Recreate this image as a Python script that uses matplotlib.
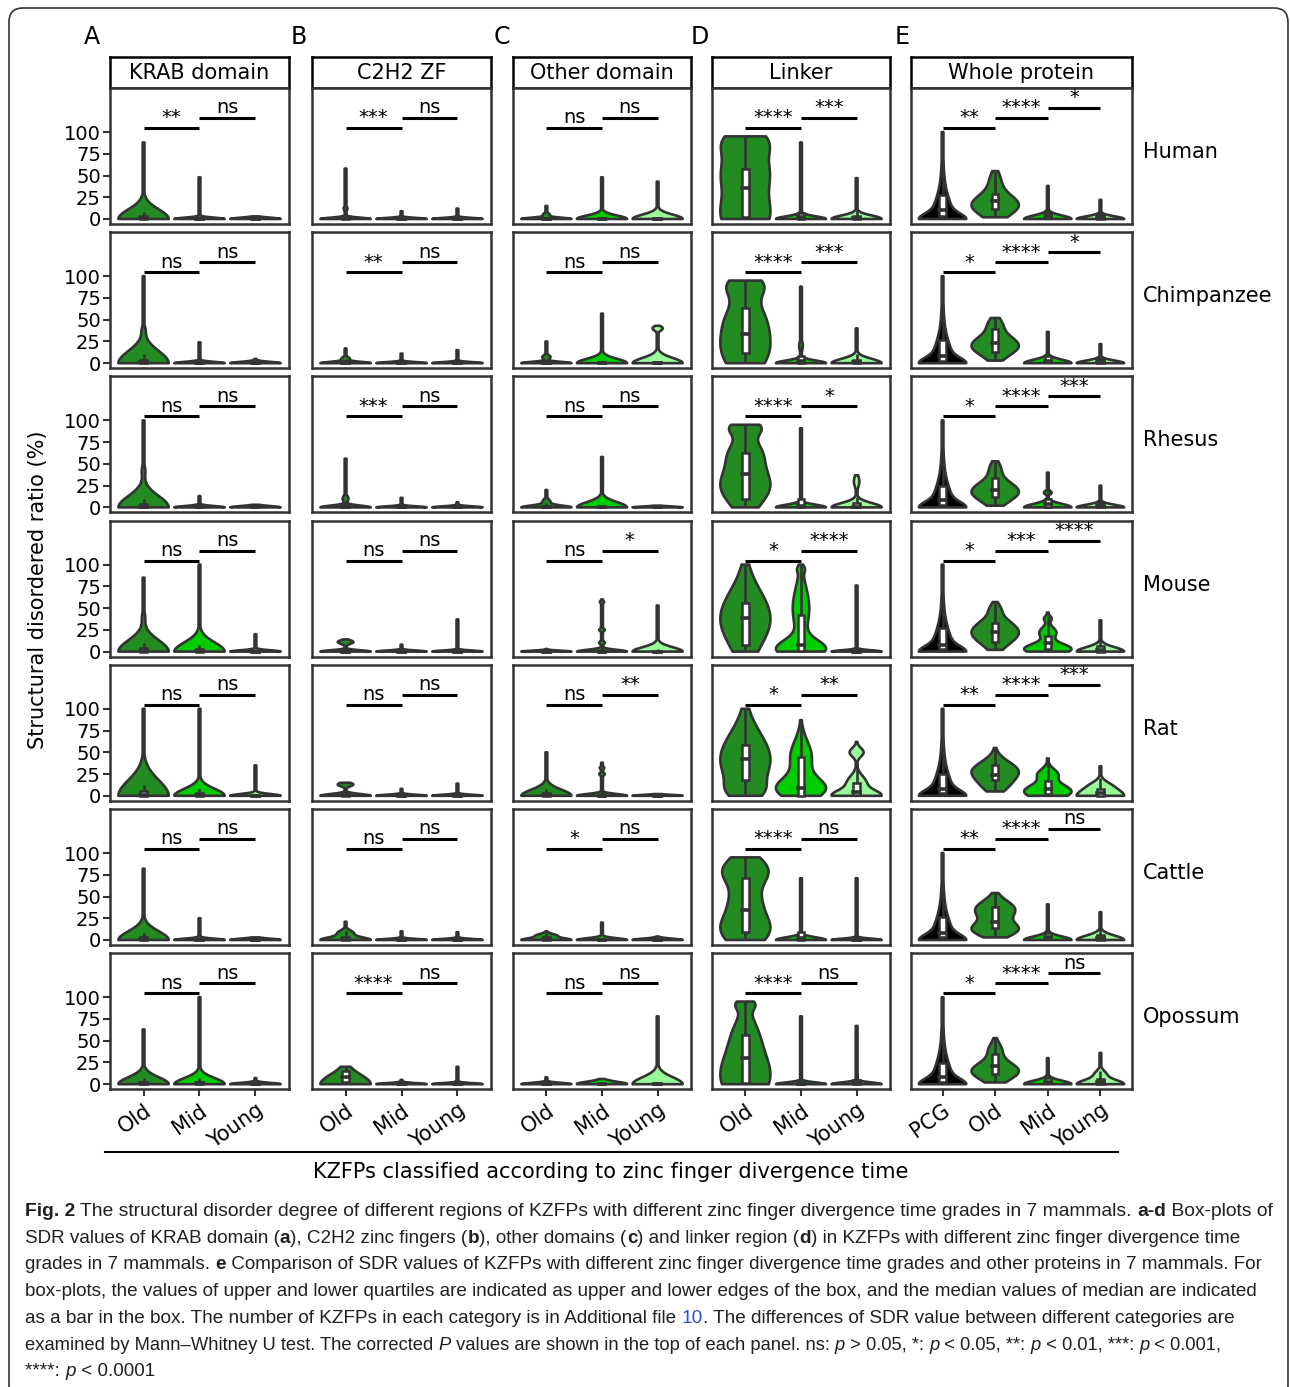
import numpy as np
import matplotlib
matplotlib.use("Agg")
import matplotlib.pyplot as plt
from matplotlib import font_manager
from matplotlib.patches import Rectangle, FancyBboxPatch
from matplotlib.lines import Line2D
from matplotlib.transforms import IdentityTransform

W, H = 1290, 1387

REGIONS = ["KRAB domain", "C2H2 ZF", "Other domain", "Linker", "Whole protein"]
LETTERS = ["A", "B", "C", "D", "E"]
SPECIES = ["Human", "Chimpanzee", "Rhesus", "Mouse", "Rat", "Cattle", "Opossum"]
GRADES = ["Old", "Mid", "Young"]
WHOLE_GROUPS = ["PCG", "Old", "Mid", "Young"]

# violin maxima (SDR %), one row per species
KRAB_TOP = [[88, 48, 3], [100, 24, 5], [100, 13, 3], [85, 100, 20],
            [100, 100, 35], [82, 25, 3], [63, 100, 7]]
C2H2_TOP = [[58, 9, 12], [17, 11, 15], [56, 11, 6], [14, 8, 37],
            [15, 8, 14], [21, 10, 9], [20, 5, 20]]
OTHER_TOP = [[15, 48, 43], [25, 57, 43], [20, 58, 2], [3, 60, 53],
             [50, 38, 2], [10, 20, 4], [8, 6, 78]]
LINKER_TOP = [[95, 88, 47], [95, 88, 40], [95, 91, 37], [100, 100, 76],
              [100, 87, 62], [95, 71, 71], [95, 78, 67]]
WHOLE_TOP = [[100, 55, 38, 22], [100, 52, 36, 22], [100, 53, 40, 25], [100, 57, 45, 36],
             [100, 55, 43, 34], [100, 54, 41, 32], [100, 53, 30, 36]]
WHOLE_LOW = [[0, 2, 0, 0], [0, 3, 0, 0], [0, 2, 0, 0], [0, 2, 0, 0],
             [0, 5, 0, 0], [0, 3, 0, 0], [0, 2, 0, 0]]

# box stats (q1, median, q3)
KRAB_BOX = [[(0, 1, 3), (0, 0, 1), (0, 0, 1)],
            [(0, 1, 4), (0, 0, 1), (0, 0, 1)],
            [(0, 1, 4), (0, 0, 1), (0, 0, 1)],
            [(0, 1, 4), (0, 1, 3), (0, 0, 1)],
            [(0, 1, 5), (0, 1, 3), (0, 0, 1)],
            [(0, 1, 3), (0, 0, 1), (0, 0, 1)],
            [(0, 1, 3), (0, 1, 3), (0, 0, 1)]]
C2H2_BOX = [[(0, 1, 3), (0, 0, 1), (0, 0, 1)],
            [(0, 0, 2), (0, 0, 1), (0, 0, 1)],
            [(0, 1, 3), (0, 0, 1), (0, 0, 1)],
            [(0, 0, 2), (0, 0, 1), (0, 0, 1)],
            [(0, 1, 3), (0, 0, 1), (0, 0, 1)],
            [(0, 1, 4), (0, 0, 1), (0, 0, 1)],
            [(3, 8, 15), (0, 0, 1), (0, 0, 1)]]
OTHER_BOX = [[(0, 0, 1), (0, 0, 1), (0, 0, 1)],
             [(0, 0, 2), (0, 0, 1), (0, 0, 1)],
             [(0, 0, 2), (0, 0, 1), (0, 0, 1)],
             [(0, 0, 1), (0, 0, 2), (0, 0, 1)],
             [(0, 1, 3), (0, 0, 2), (0, 0, 1)],
             [(0, 1, 3), (0, 0, 1), (0, 0, 1)],
             [(0, 0, 1), (0, 0, 1), (0, 0, 1)]]
LINKER_BOX = [[(2, 36, 58), (0, 2, 7), (0, 1, 4)],
              [(12, 33, 64), (0, 2, 8), (0, 1, 4)],
              [(10, 38, 62), (0, 2, 10), (0, 1, 5)],
              [(8, 39, 56), (1, 8, 42), (0, 0, 2)],
              [(18, 42, 58), (0, 9, 45), (1, 4, 15)],
              [(9, 34, 71), (0, 2, 9), (0, 0, 2)],
              [(1, 30, 57), (0, 0, 2), (0, 1, 5)]]
WHOLE_BOX = [[(3, 10, 28), (12, 21, 29), (1, 3, 7), (0, 2, 5)],
             [(3, 8, 27), (13, 23, 39), (1, 3, 8), (0, 2, 5)],
             [(3, 8, 25), (12, 20, 34), (1, 4, 10), (0, 2, 5)],
             [(3, 8, 27), (11, 22, 33), (3, 10, 18), (0, 2, 6)],
             [(3, 8, 25), (18, 24, 35), (2, 8, 17), (0, 3, 8)],
             [(3, 8, 27), (14, 21, 38), (1, 3, 8), (0, 2, 6)],
             [(3, 8, 24), (12, 21, 35), (1, 3, 7), (0, 2, 6)]]

# violin outline descriptors: density bumps (centre, spread, weight)
PCG = [(0, 6, 0.55), (0, 20, 0.35), (0, 45, 0.1)]
KRAB_SHAPE = [[[(0, 11, 1)], [(0, 1.5, 1)], [(0, 1.5, 1)]],
              [[(0, 14, 1), (38, 5, 0.05)], [(0, 1.5, 1)], [(0, 1.5, 1)]],
              [[(0, 13, 1), (42, 6, 0.06)], [(0, 1.5, 1)], [(0, 1.5, 1)]],
              [[(0, 13, 1), (40, 6, 0.05)], [(0, 10.5, 1)], [(0, 1.5, 1)]],
              [[(0, 18, 1)], [(0, 8, 1)], [(0, 2, 1)]],
              [[(0, 10, 1)], [(0, 1.5, 1)], [(0, 1.5, 1)]],
              [[(0, 8, 1)], [(0, 7, 1)], [(0, 1.5, 1)]]]
C2H2_SHAPE = [[[(0, 1.5, 1), (12, 2, 0.06)], [(0, 1.2, 1)], [(0, 1.2, 1)]],
              [[(0, 1.5, 1), (5, 2, 0.15)], [(0, 1.2, 1)], [(0, 1.2, 1)]],
              [[(0, 2, 1), (10, 3, 0.1)], [(0, 1.2, 1)], [(0, 1.2, 1)]],
              [[(0, 1.5, 1), (11, 2, 0.3)], [(0, 1.2, 1)], [(0, 1.2, 1)]],
              [[(0, 2, 1), (13, 2, 0.3)], [(0, 1.2, 1)], [(0, 1.2, 1)]],
              [[(0, 3, 1), (8, 3, 0.3)], [(0, 1.2, 1)], [(0, 1.2, 1)]],
              [[(0, 11, 1)], [(0, 1.2, 1)], [(0, 1.2, 1)]]]
OTHER_SHAPE = [[[(0, 1.5, 1), (5, 1.5, 0.12)], [(0, 4, 1)], [(0, 5, 1)]],
               [[(0, 1.5, 1), (7, 2, 0.15)], [(0, 5, 1)], [(0, 6, 1), (40, 2.5, 0.2)]],
               [[(0, 2, 1), (6, 3, 0.15)], [(0, 6, 1)], [(0, 1, 1)]],
               [[(0, 1, 1)], [(0, 2, 1), (10, 1.5, 0.1), (25, 1.5, 0.1), (57, 1.5, 0.08)], [(0, 5, 1)]],
               [[(0, 7, 1)], [(0, 2, 1), (25, 1.5, 0.1), (32, 1.5, 0.08)], [(0, 1, 1)]],
               [[(0, 2, 1), (5, 2, 0.4)], [(0, 2, 1)], [(0, 1.5, 1)]],
               [[(0, 1.5, 1)], [(0, 2, 1), (3, 2, 0.3)], [(0, 8, 1)]]]
LINKER_SHAPE = [[[(5, 25, 1), (55, 20, 0.85), (90, 15, 0.8)], [(0, 3, 1)], [(0, 4, 1)]],
                [[(15, 25, 1), (55, 20, 0.6), (90, 12, 0.7)], [(0, 3, 1), (20, 5, 0.06)], [(0, 5, 1)]],
                [[(25, 22, 1), (65, 15, 0.5), (92, 8, 0.55)], [(0, 3, 1)], [(0, 5, 1), (30, 6, 0.1)]],
                [[(38, 32, 1)], [(3, 10, 1), (50, 25, 0.35), (95, 4, 0.1)], [(0, 1.5, 1)]],
                [[(42, 30, 1), (5, 10, 0.3)], [(8, 12, 1), (45, 18, 0.45)], [(0, 6, 1), (15, 8, 0.4), (50, 5, 0.3)]],
                [[(12, 18, 1), (80, 16, 0.95), (45, 15, 0.45)], [(0, 3, 1)], [(0, 1.5, 1)]],
                [[(10, 28, 1), (60, 20, 0.35), (92, 6, 0.3)], [(0, 2, 1)], [(0, 2, 1)]]]
WHOLE_SHAPE = [[PCG, [(16, 12, 1), (45, 10, 0.2)], [(0, 4, 1)], [(0, 3, 1)]],
               [PCG, [(20, 11, 1), (45, 8, 0.25)], [(0, 4, 1)], [(0, 3, 1)]],
               [PCG, [(18, 11, 1), (45, 8, 0.2)], [(0, 4, 1), (17, 2, 0.15)], [(0, 3, 1)]],
               [PCG, [(22, 13, 1), (50, 6, 0.15)], [(3, 6, 1), (22, 6, 0.35), (38, 3, 0.15)], [(0, 5, 1)]],
               [PCG, [(28, 11, 1), (10, 8, 0.3)], [(5, 8, 1), (25, 6, 0.4)], [(0, 7, 1), (12, 5, 0.3)]],
               [PCG, [(12, 8, 1), (35, 10, 0.9)], [(0, 4, 1)], [(0, 5, 1)]],
               [PCG, [(15, 10, 1), (40, 8, 0.25)], [(0, 4, 1)], [(0, 5, 1), (12, 4, 0.2)]]]

# Mann-Whitney significance between neighbouring groups
KRAB_SIG = [["**", "ns"], ["ns", "ns"], ["ns", "ns"], ["ns", "ns"],
            ["ns", "ns"], ["ns", "ns"], ["ns", "ns"]]
C2H2_SIG = [["***", "ns"], ["**", "ns"], ["***", "ns"], ["ns", "ns"],
            ["ns", "ns"], ["ns", "ns"], ["****", "ns"]]
OTHER_SIG = [["ns", "ns"], ["ns", "ns"], ["ns", "ns"], ["ns", "*"],
             ["ns", "**"], ["*", "ns"], ["ns", "ns"]]
LINKER_SIG = [["****", "***"], ["****", "***"], ["****", "*"], ["*", "****"],
              ["*", "**"], ["****", "ns"], ["****", "ns"]]
WHOLE_SIG = [["**", "****", "*"], ["*", "****", "*"], ["*", "****", "***"], ["*", "***", "****"],
             ["**", "****", "***"], ["**", "****", "ns"], ["*", "****", "ns"]]
SIG_Y = [104.6, 116, 127.6]

FILL = {"PCG": "black", "Old": "#228B22", "Mid": "#00CD00", "Young": "#98FB98"}
EDGE = "#333333"

names = {f.name for f in font_manager.fontManager.ttflist}
CAP_FONT = "Liberation Sans Narrow" if "Liberation Sans Narrow" in names else "Liberation Sans"
plt.rcParams["font.family"] = ["DejaVu Sans"]

fig = plt.figure(figsize=(W / 100, H / 100), dpi=100)


def px_axes(x0, y0, x1, y1):
    return fig.add_axes([x0 / W, 1 - y1 / H, (x1 - x0) / W, (y1 - y0) / H])


def draw_violin(ax, pos, lo, hi, bumps, box, color):
    ys = np.linspace(lo, hi, 300)
    d = np.zeros_like(ys)
    for mu, sd, wt in bumps:
        d += wt * np.exp(-0.5 * ((ys - mu) / sd) ** 2)
    d = d / d.max() + 0.025 * np.exp(-(ys - lo) / 40)
    half = np.maximum(0.45 * d / d.max(), 0.016)
    ax.fill(np.r_[pos - half, (pos + half)[::-1]], np.r_[ys, ys[::-1]],
            fc=color, ec=EDGE, lw=1.9, zorder=2, joinstyle="round")
    q1, med, q3 = box
    iqr = q3 - q1
    ax.plot([pos, pos], [max(lo, q1 - 1.5 * iqr), min(hi, q3 + 1.5 * iqr)],
            color=EDGE, lw=1.9, zorder=3, solid_capstyle="butt")
    ax.add_patch(Rectangle((pos - 0.06, q1), 0.12, q3 - q1, fc="white", ec=EDGE,
                           lw=1.8, zorder=4))
    ax.plot([pos - 0.06, pos + 0.06], [med, med], color=EDGE, lw=2.6, zorder=5)


COLS = [(110, 289), (312, 491), (513, 691), (712, 890), (911, 1132)]
ROW_TOP0, ROW_PITCH, ROW_H = 88, 144.2, 136
TOPS = [KRAB_TOP, C2H2_TOP, OTHER_TOP, LINKER_TOP, WHOLE_TOP]
BOXES = [KRAB_BOX, C2H2_BOX, OTHER_BOX, LINKER_BOX, WHOLE_BOX]
SHAPES = [KRAB_SHAPE, C2H2_SHAPE, OTHER_SHAPE, LINKER_SHAPE, WHOLE_SHAPE]
SIGS = [KRAB_SIG, C2H2_SIG, OTHER_SIG, LINKER_SIG, WHOLE_SIG]
LETTER_X = [92, 299, 502, 700, 902]

for c, region in enumerate(REGIONS):
    x0, x1 = COLS[c]
    groups = WHOLE_GROUPS if c == 4 else GRADES
    n = len(groups)
    # strip header
    sax = px_axes(x0, 57, x1, ROW_TOP0)
    sax.set_xticks([]); sax.set_yticks([])
    for sp in sax.spines.values():
        sp.set_color("black"); sp.set_linewidth(1.8)
    sax.text(0.5, 0.47, region, ha="center", va="center", fontsize=15, transform=sax.transAxes)
    fig.text(LETTER_X[c] / W, 1 - 37 / H, LETTERS[c], ha="center", va="center", fontsize=17)

    for r, sp_name in enumerate(SPECIES):
        top = ROW_TOP0 + r * ROW_PITCH
        ax = px_axes(x0, top, x1, top + ROW_H)
        for g, grp in enumerate(groups):
            lo = WHOLE_LOW[r][g] if c == 4 else 0
            draw_violin(ax, g + 1, lo, TOPS[c][r][g], SHAPES[c][r][g], BOXES[c][r][g], FILL[grp])
        for k, lab in enumerate(SIGS[c][r]):
            y = SIG_Y[k]
            ax.plot([k + 1, k + 2], [y, y], color="black", lw=2.2, solid_capstyle="butt", zorder=6)
            ax.text(k + 1.5, y + 0.8, lab, ha="center", va="bottom", fontsize=14, zorder=7)
        ax.set_xlim(0.4, n + 0.6)
        ax.set_ylim(-5.75, 150.6)
        for sp in ax.spines.values():
            sp.set_color(EDGE); sp.set_linewidth(1.8)
        if c == 0:
            ax.set_yticks([0, 25, 50, 75, 100])
            ax.tick_params(axis="y", length=5, width=1.5, color=EDGE, labelsize=14, pad=1.5)
        else:
            ax.set_yticks([])
        if r == len(SPECIES) - 1:
            ax.set_xticks(range(1, n + 1))
            ax.set_xticklabels(groups, rotation=35, ha="right", va="top",
                               rotation_mode="anchor", fontsize=15)
            ax.tick_params(axis="x", length=5, width=1.5, color=EDGE, pad=3)
        else:
            ax.set_xticks([])
        if c == 4:
            fig.text(1143 / W, 1 - (top + ROW_H / 2 - 4) / H, sp_name, ha="left",
                     va="center", fontsize=15)

fig.text(38 / W, 1 - 590 / H, "Structural disordered ratio (%)", rotation=90,
         ha="center", va="center", fontsize=15)
fig.add_artist(Line2D([105 / W, 1118 / W], [1 - 1152 / H] * 2, color="black", lw=1.5))
fig.text(611 / W, 1 - 1172 / H, "KZFPs classified according to zinc finger divergence time",
         ha="center", va="center", fontsize=15)

frame = FancyBboxPatch((9, H - 1400), 1279, 1392, boxstyle="round,pad=0,rounding_size=14",
                       fc="none", ec=EDGE, lw=1.2, transform=IdentityTransform())
fig.add_artist(frame)

# caption
N, B, I, L = "n", "b", "i", "l"
CAPTION = [
    [("Fig. 2", B), (" The structural disorder degree of different regions of KZFPs with different "
                     "zinc finger divergence time grades in 7 mammals. ", N), ("a-d", B), (" Box-plots of", N)],
    [("SDR values of KRAB domain (", N), ("a", B), ("), C2H2 zinc fingers (", N), ("b", B),
     ("), other domains (", N), ("c", B), (") and linker region (", N), ("d", B),
     (") in KZFPs with different zinc finger divergence time", N)],
    [("grades in 7 mammals. ", N), ("e", B), (" Comparison of SDR values of KZFPs with different zinc "
                                              "finger divergence time grades and other proteins in 7 mammals. For", N)],
    [("box-plots, the values of upper and lower quartiles are indicated as upper and lower edges of the "
      "box, and the median values of median are indicated", N)],
    [("as a bar in the box. The number of KZFPs in each category is in Additional file ", N), ("10", L),
     (". The differences of SDR value between different categories are", N)],
    [("examined by Mann\u2013Whitney U test. The corrected ", N), ("P", I),
     (" values are shown in the top of each panel. ns: ", N), ("p", I), (" > 0.05, *: ", N), ("p", I),
     (" < 0.05, **: ", N), ("p", I), (" < 0.01, ***: ", N), ("p", I), (" < 0.001,", N)],
    [("****: ", N), ("p", I), (" < 0.0001", N)],
]
CAPTION_END = [1280, 1249, 1272, 1268, 1248, 1222, None]

renderer = fig.canvas.get_renderer()


def style_kw(st, size):
    kw = dict(fontsize=size, family=CAP_FONT, color="#231f20")
    if st == B:
        kw["fontweight"] = "bold"
    elif st == I:
        kw["fontstyle"] = "italic"
    elif st == L:
        kw["color"] = "#2b50d8"
    return kw


def seg_width(txt, st, size):
    t1 = fig.text(0, 0, txt + "x", **style_kw(st, size))
    t2 = fig.text(0, 0, "x", **style_kw(st, size))
    w = t1.get_window_extent(renderer).width - t2.get_window_extent(renderer).width
    t1.remove(); t2.remove()
    return w


sizes = []
for line, end in zip(CAPTION, CAPTION_END):
    if end is None:
        sizes.append(float(np.median(sizes)))
    else:
        w10 = sum(seg_width(t, s, 10) for t, s in line)
        sizes.append(10 * (end - 25) / w10)

for i, line in enumerate(CAPTION):
    x = 25
    yb = 1216 + 26.7 * i
    for txt, st in line:
        fig.text(x / W, 1 - yb / H, txt, ha="left", va="baseline", **style_kw(st, sizes[i]))
        x += seg_width(txt, st, sizes[i])

fig.savefig("out.png", dpi=100)
